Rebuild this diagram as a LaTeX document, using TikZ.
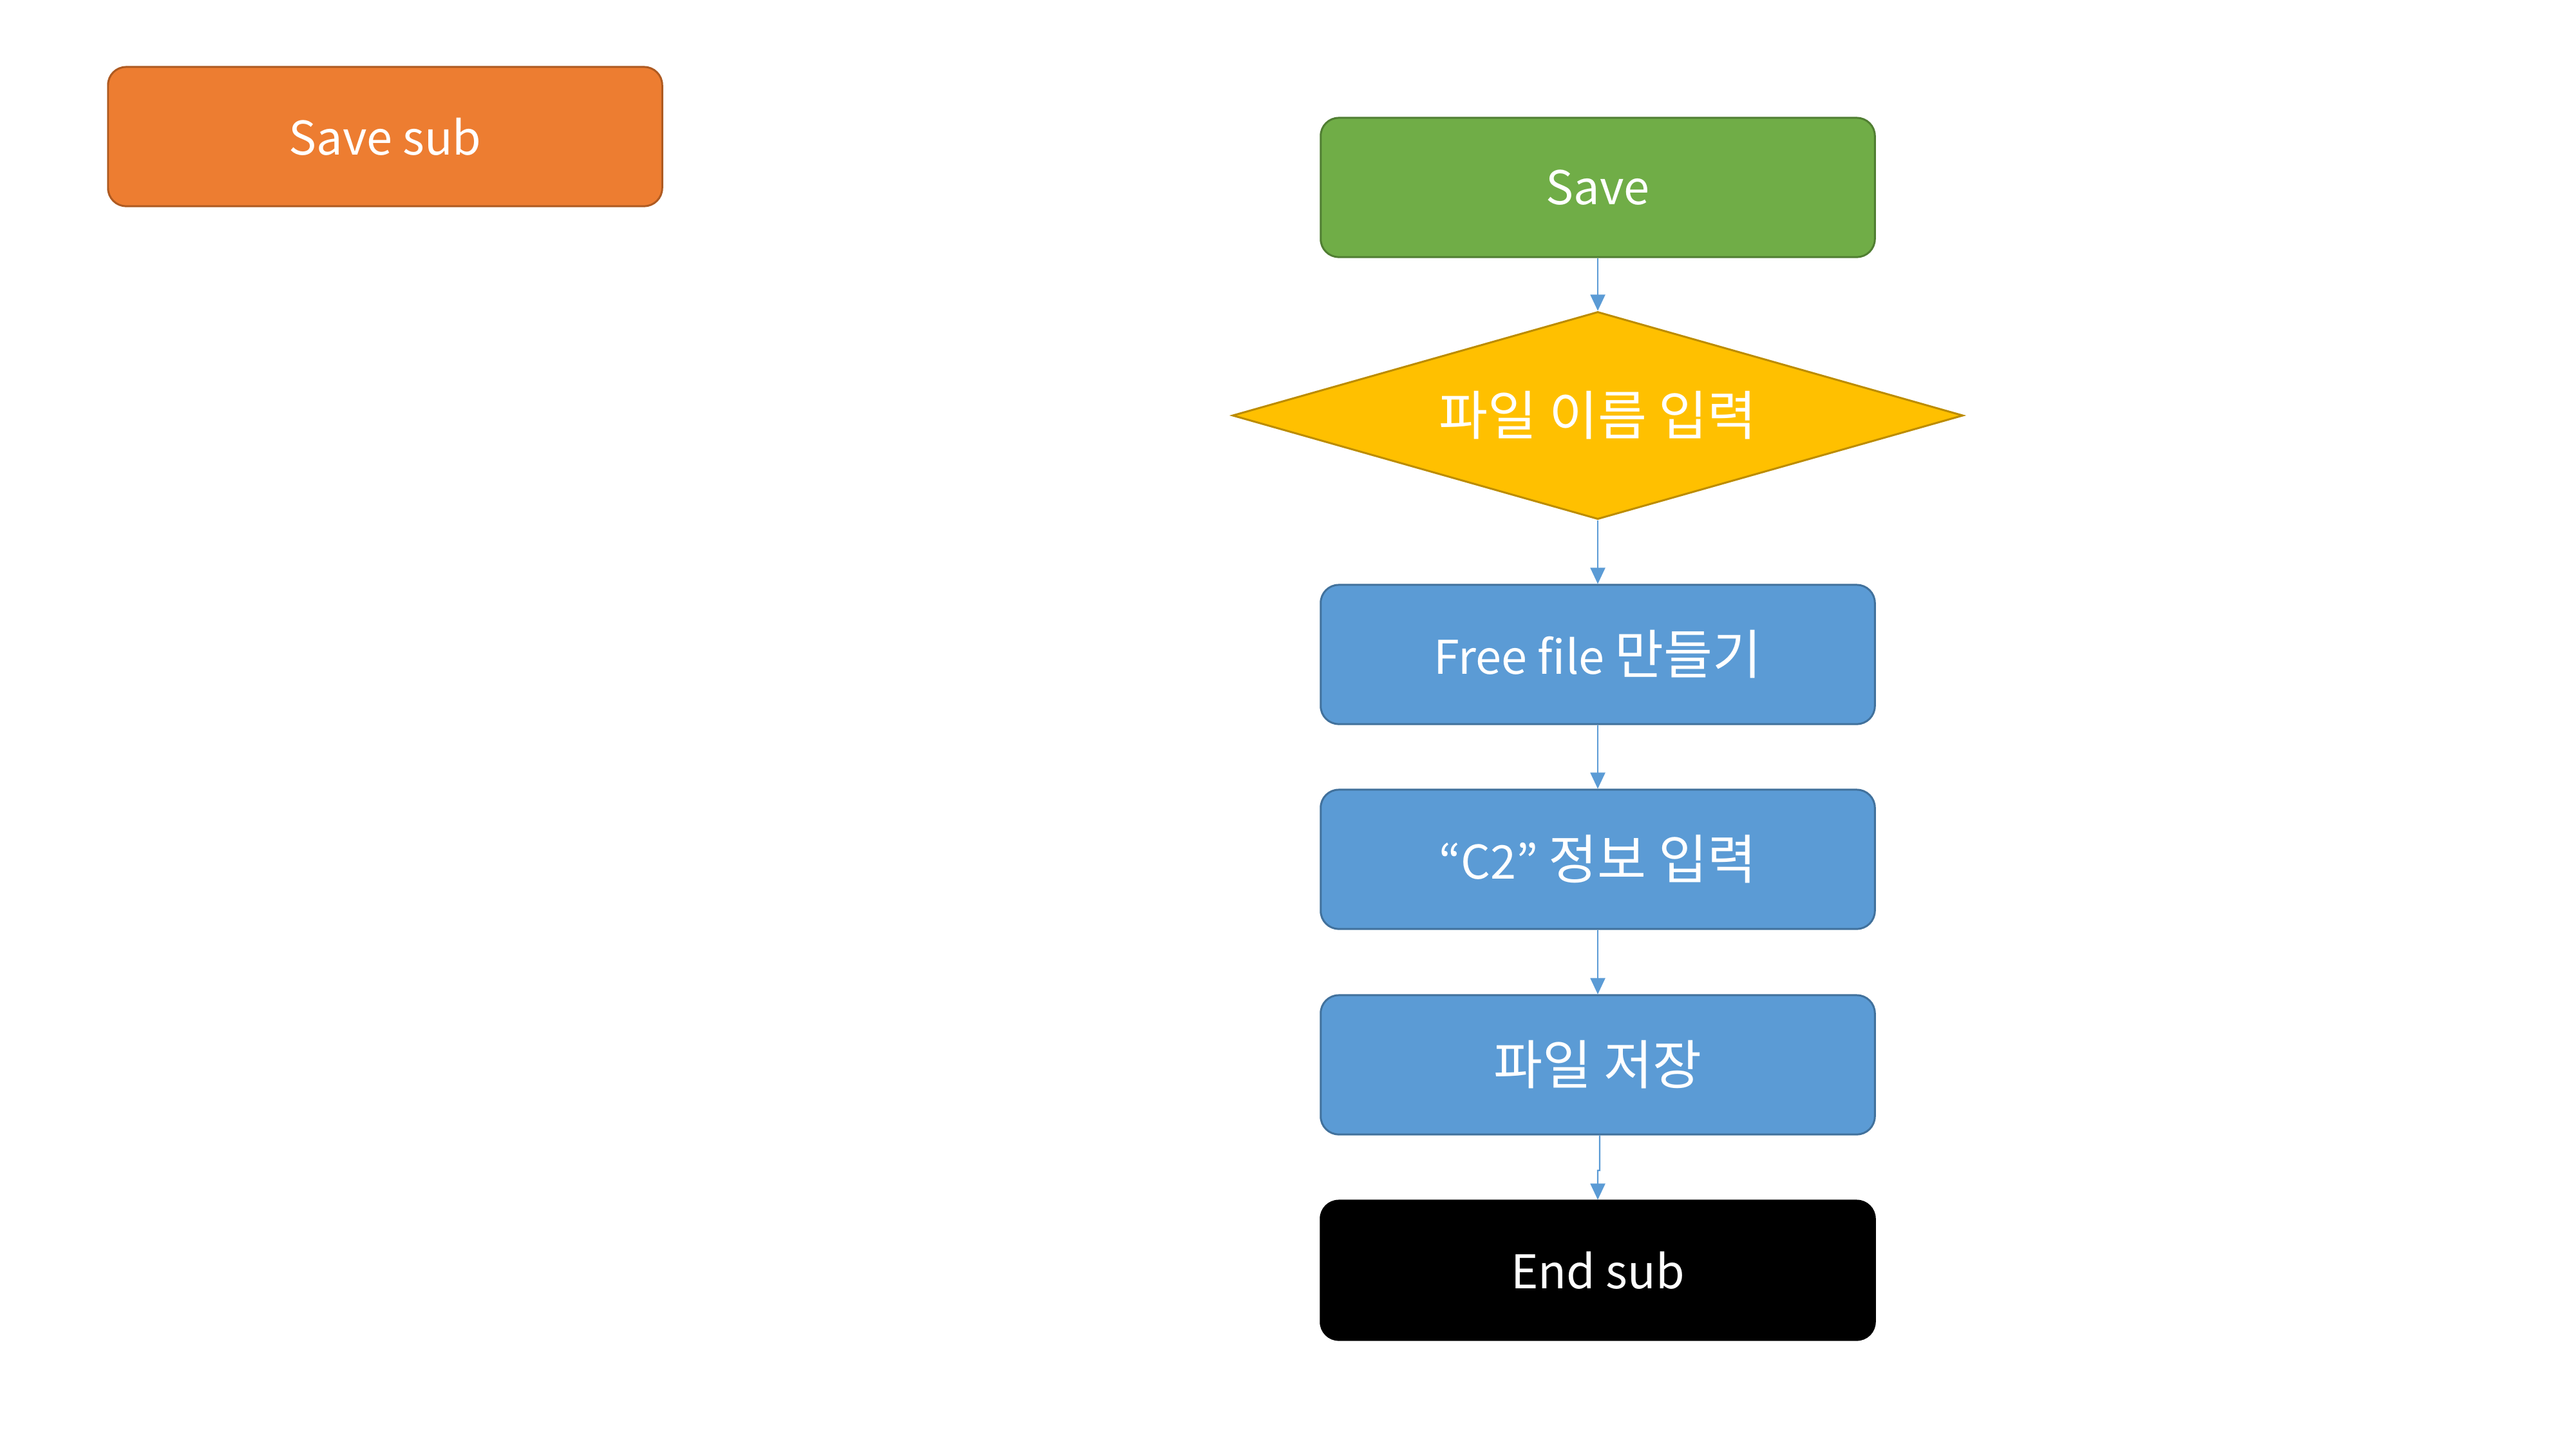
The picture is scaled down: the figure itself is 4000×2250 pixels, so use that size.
\documentclass[tikz,border=0pt]{standalone}
\usepackage{fontspec}
\setmainfont{Noto Sans CJK KR}
\usetikzlibrary{shapes.geometric,arrows.meta}
\definecolor{orfill}{HTML}{ED7D31}\definecolor{ordraw}{HTML}{AE5A21}
\definecolor{grfill}{HTML}{70AD47}\definecolor{grdraw}{HTML}{507E32}
\definecolor{yefill}{HTML}{FFC000}\definecolor{yedraw}{HTML}{BC8C00}
\definecolor{blfill}{HTML}{5B9BD5}\definecolor{bldraw}{HTML}{41719C}
\definecolor{arrowc}{HTML}{5B9BD5}
\newcommand{\krtext}[1]{{\fontsize{23.5}{26}\selectfont #1}}
\tikzset{
  box/.style={rectangle, rounded corners=0.28cm, minimum width=8.6cm, minimum height=2.16cm,
    inner sep=0pt, line width=0.85pt, text=white, font=\fontsize{20.5}{26}\selectfont},
  orbox/.style={box, fill=orfill, draw=ordraw},
  grbox/.style={box, fill=grfill, draw=grdraw},
  blbox/.style={box, fill=blfill, draw=bldraw},
  bkbox/.style={box, fill=black, draw=black},
  decide/.style={diamond, aspect=3.52, minimum width=11.34cm, minimum height=3.22cm,
    inner sep=0pt, fill=yefill, draw=yedraw, line width=0.85pt, text=white,
    font=\fontsize{20.5}{26}\selectfont},
  flow/.style={draw=arrowc, line width=0.6pt, -{Triangle[length=0.25cm,width=0.23cm]}}
}
\begin{document}
\begin{tikzpicture}[x=0.01cm,y=-0.01cm]
\useasboundingbox (0,0) rectangle (4000,2250);
\node[orbox] (savesub) at (598,212) {Save sub};
\node[grbox] (save) at (2481,291) {Save};
\node[decide] (name) at (2481,645) {\krtext{파일 이름 입력}};
\node[blbox] (free) at (2481,1016) {Free file \krtext{만들기}};
\node[blbox] (c2) at (2481,1334) {“C2” \krtext{정보 입력}};
\node[blbox] (store) at (2481,1653) {\krtext{파일 저장}};
\node[bkbox] (end) at (2481,1972) {End sub};
\draw[flow] (save.south) -- (name.north);
\draw[flow] (name.south) -- (free.north);
\draw[flow] (free.south) -- (c2.north);
\draw[flow] (c2.south) -- (store.north);
\coordinate (j1) at (2484,1817);
\coordinate (j2) at (2481,1817);
\draw[flow] ([xshift=0.03cm]store.south) -- (j1) -- (j2) -- (end.north);
\end{tikzpicture}
\end{document}
